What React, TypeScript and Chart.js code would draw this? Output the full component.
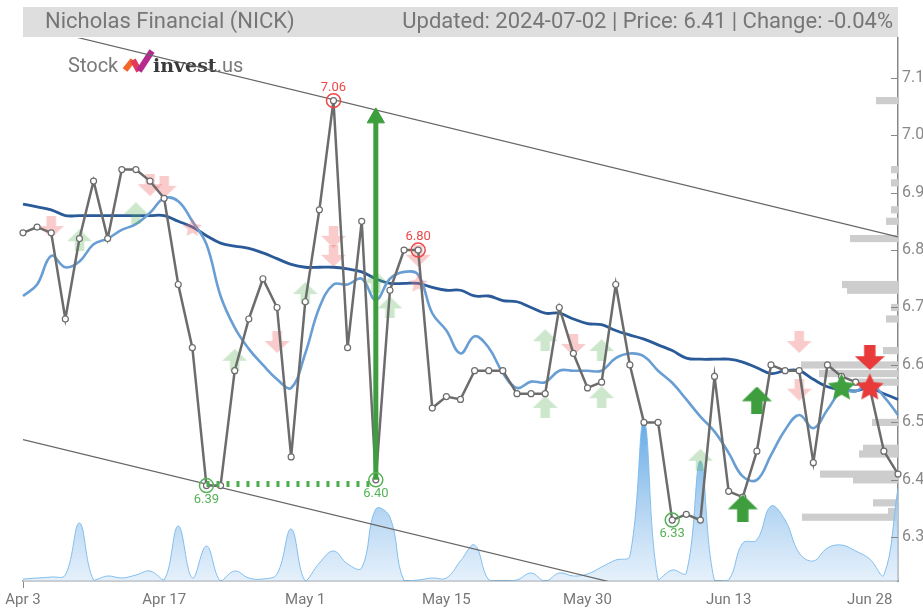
import React, { useEffect, useRef } from 'react';
import { Chart, registerables } from 'chart.js';

Chart.register(...registerables);

const FONT = 'Roboto, "Liberation Sans", sans-serif';

const titleLeft = 'Nicholas Financial (NICK)';
const titleRight = 'Updated: 2024-07-02 | Price: 6.41 | Change: -0.04%';

const dates = [
  'Apr 3', 'Apr 4', 'Apr 5', 'Apr 8', 'Apr 9', 'Apr 10', 'Apr 11', 'Apr 12', 'Apr 15', 'Apr 16',
  'Apr 17', 'Apr 18', 'Apr 19', 'Apr 22', 'Apr 23', 'Apr 24', 'Apr 25', 'Apr 26', 'Apr 29', 'Apr 30',
  'May 1', 'May 2', 'May 3', 'May 6', 'May 7', 'May 8', 'May 9', 'May 10', 'May 13', 'May 14',
  'May 15', 'May 16', 'May 17', 'May 20', 'May 21', 'May 22', 'May 23', 'May 24', 'May 28', 'May 29',
  'May 30', 'May 31', 'Jun 3', 'Jun 4', 'Jun 5', 'Jun 6', 'Jun 7', 'Jun 10', 'Jun 11', 'Jun 12',
  'Jun 13', 'Jun 14', 'Jun 17', 'Jun 18', 'Jun 20', 'Jun 21', 'Jun 24', 'Jun 25', 'Jun 26', 'Jun 27',
  'Jun 28', 'Jul 1', 'Jul 2',
];

const tickLabels = ['Apr 3', 'Apr 17', 'May 1', 'May 15', 'May 30', 'Jun 13', 'Jun 28'];
const yTicks = [6.3, 6.4, 6.5, 6.6, 6.7, 6.8, 6.9, 7.0, 7.1];
const yMin = 6.224;
const yMax = 7.169;

const price = [
  6.83, 6.84, 6.83, 6.68, 6.82, 6.92, 6.82, 6.94, 6.94, 6.92,
  6.89, 6.74, 6.63, 6.39, 6.39, 6.59, 6.68, 6.75, 6.70, 6.44,
  6.71, 6.87, 7.06, 6.63, 6.85, 6.40, 6.73, 6.80, 6.80, 6.525,
  6.545, 6.54, 6.59, 6.59, 6.59, 6.55, 6.55, 6.55, 6.70, 6.62,
  6.56, 6.57, 6.74, 6.60, 6.50, 6.50, 6.33, 6.34, 6.33, 6.58,
  6.38, 6.37, 6.45, 6.60, 6.59, 6.59, 6.43, 6.60, 6.58, 6.57,
  6.56, 6.45, 6.41,
];

const maFast = [
  6.72, 6.74, 6.79, 6.77, 6.78, 6.81, 6.82, 6.835, 6.845, 6.865,
  6.89, 6.885, 6.85, 6.81, 6.72, 6.665, 6.628, 6.60, 6.575, 6.56,
  6.62, 6.70, 6.74, 6.74, 6.75, 6.713, 6.75, 6.762, 6.757, 6.69,
  6.66, 6.62, 6.65, 6.63, 6.586, 6.56, 6.571, 6.57, 6.59, 6.59,
  6.59, 6.59, 6.612, 6.62, 6.615, 6.59, 6.569, 6.54, 6.51, 6.484,
  6.447, 6.406, 6.40, 6.443, 6.487, 6.513, 6.49, 6.522, 6.554, 6.554,
  6.568, 6.545, 6.513,
];

const maSlow = [
  6.88, 6.875, 6.87, 6.86, 6.86, 6.86, 6.86, 6.86, 6.86, 6.86,
  6.86, 6.85, 6.84, 6.825, 6.812, 6.807, 6.803, 6.795, 6.785, 6.775,
  6.77, 6.77, 6.77, 6.767, 6.762, 6.75, 6.742, 6.742, 6.742, 6.735,
  6.73, 6.73, 6.72, 6.72, 6.712, 6.71, 6.70, 6.69, 6.69, 6.68,
  6.672, 6.67, 6.66, 6.652, 6.645, 6.635, 6.625, 6.612, 6.61, 6.61,
  6.61, 6.605, 6.595, 6.585, 6.59, 6.59, 6.575, 6.562, 6.557, 6.555,
  6.56, 6.55, 6.54,
];

const volume = [
  2, 3, 4, 6, 58, 1, 5, 3, 6, 10,
  1, 55, 3, 35, 0, 10, 3, 2, 7, 52,
  0, 18, 30, 17, 13, 72, 64, 0, 1, 3,
  3, 20, 36, 1, 0, 1, 8, 0, 8, 5,
  7, 14, 21, 25, 160, 1, 11, 8, 120, 0,
  1, 38, 41, 75, 61, 28, 20, 33, 36, 30,
  22, 6, 93,
];
const volumeAxisMax = 543;

const channelUpper = [7.193, 6.823];
const channelLower = [6.47, 6.101];

const profilePrices = [7.06, 6.94, 6.917, 6.87, 6.85, 6.82, 6.74, 6.73, 6.70, 6.68, 6.625, 6.60, 6.585, 6.57, 6.50, 6.455, 6.445, 6.41, 6.40, 6.36, 6.345, 6.335];
const profileVolume = [22, 7, 7, 7, 12, 48, 56, 51, 7, 12, 15, 97, 79, 45, 26, 35, 39, 78, 45, 25, 10, 96];
const profileBin = 0.0125;
const profileAxisMax = 875;

const highIdx = [22, 28];
const highVal = [7.06, 6.80];
const lowIdx = [13, 25, 46];
const lowVal = [6.39, 6.40, 6.33];

const supportIdx = [13, 25];
const supportVal = [6.393, 6.393];

const jumpIdx = [25, 25];
const jumpVal = [6.40, 7.03];

const fadedDownIdx = [2, 9, 10, 18, 22, 22, 28, 39, 55, 55];
const fadedDownVal = [6.84, 6.913, 6.91, 6.64, 6.823, 6.79, 6.79, 6.635, 6.64, 6.557];
const fadedUpIdx = [4, 8, 15, 20, 25, 26, 37, 37, 41, 41, 48];
const fadedUpVal = [6.817, 6.864, 6.609, 6.725, 6.744, 6.70, 6.643, 6.527, 6.626, 6.544, 6.435];
const fadedStarIdx = [12, 28];
const fadedStarVal = [6.84, 6.743];
const strongUpIdx = [51, 52];
const strongUpVal = [6.351, 6.539];
const strongDownIdx = [60];
const strongDownVal = [6.613];
const greenStarIdx = [58];
const greenStarVal = [6.562];
const redStarIdx = [60];
const redStarVal = [6.562];

const GREEN = 'rgb(62,158,62)';
const RED = 'rgb(232,58,58)';

function pts(idx: number[], val: number[]) {
  return idx.map((i, k) => ({ x: dates[i], y: val[k] }));
}

function makeArrow(w: number, h: number, color: string, dir: 'up' | 'down') {
  const c = document.createElement('canvas');
  c.width = w;
  c.height = h;
  const g = c.getContext('2d')!;
  const sw = w * 0.38;
  const hh = h * 0.55;
  g.fillStyle = color;
  g.beginPath();
  if (dir === 'up') {
    g.moveTo(w / 2, 0);
    g.lineTo(w, hh);
    g.lineTo((w + sw) / 2, hh);
    g.lineTo((w + sw) / 2, h);
    g.lineTo((w - sw) / 2, h);
    g.lineTo((w - sw) / 2, hh);
    g.lineTo(0, hh);
  } else {
    g.moveTo(w / 2, h);
    g.lineTo(w, h - hh);
    g.lineTo((w + sw) / 2, h - hh);
    g.lineTo((w + sw) / 2, 0);
    g.lineTo((w - sw) / 2, 0);
    g.lineTo((w - sw) / 2, h - hh);
    g.lineTo(0, h - hh);
  }
  g.closePath();
  g.fill();
  return c;
}

function makeStar(r: number, color: string) {
  const s = Math.ceil(r * 2 + 2);
  const c = document.createElement('canvas');
  c.width = s;
  c.height = s;
  const g = c.getContext('2d')!;
  g.fillStyle = color;
  g.beginPath();
  for (let k = 0; k < 10; k++) {
    const a = -Math.PI / 2 + (k * Math.PI) / 5;
    const rr = k % 2 === 0 ? r : r * 0.48;
    const px = s / 2 + Math.cos(a) * rr;
    const py = s / 2 + 1 + Math.sin(a) * rr;
    if (k === 0) g.moveTo(px, py);
    else g.lineTo(px, py);
  }
  g.closePath();
  g.fill();
  return c;
}

const headerPlugin = {
  id: 'header',
  beforeDraw(chart: any) {
    const { ctx, chartArea } = chart;
    ctx.save();
    ctx.fillStyle = '#dedede';
    ctx.fillRect(chartArea.left, 7, chartArea.right - chartArea.left, 30);
    ctx.font = `22px ${FONT}`;
    ctx.fillStyle = '#767676';
    ctx.textBaseline = 'middle';
    ctx.textAlign = 'left';
    ctx.fillText(titleLeft, chartArea.left + 22, 22);
    ctx.textAlign = 'right';
    ctx.fillText(titleRight, chartArea.right - 5, 22);

    // logo
    ctx.textAlign = 'left';
    ctx.textBaseline = 'alphabetic';
    ctx.font = `20px ${FONT}`;
    ctx.fillStyle = '#7a7a7a';
    ctx.fillText('Stock', 68, 72);
    ctx.lineCap = 'butt';
    ctx.lineWidth = 6;
    ctx.strokeStyle = '#f2672a';
    ctx.beginPath();
    ctx.moveTo(125, 70);
    ctx.lineTo(133, 60);
    ctx.stroke();
    ctx.strokeStyle = '#e23a5e';
    ctx.beginPath();
    ctx.moveTo(133, 60);
    ctx.lineTo(139, 71);
    ctx.stroke();
    ctx.strokeStyle = '#b52a8c';
    ctx.beginPath();
    ctx.moveTo(139, 71);
    ctx.lineTo(152, 51);
    ctx.stroke();
    ctx.font = `bold 19px "DejaVu Serif", serif`;
    ctx.fillStyle = '#3a3a3a';
    ctx.fillText('invest', 153, 72);
    const w = ctx.measureText('invest').width;
    ctx.font = `20px ${FONT}`;
    ctx.fillStyle = '#7a7a7a';
    ctx.fillText('.us', 153 + w, 72);
    ctx.restore();
  },
};

const profilePlugin = {
  id: 'profile',
  beforeDatasetsDraw(chart: any) {
    const { ctx, scales, chartArea } = chart;
    const ys = scales.y;
    const pxPerUnit = (chartArea.right - chartArea.left) / profileAxisMax;
    ctx.save();
    ctx.fillStyle = 'rgb(205,205,205)';
    profilePrices.forEach((p, k) => {
      const top = ys.getPixelForValue(p + profileBin / 2);
      const bot = ys.getPixelForValue(p - profileBin / 2);
      const w = profileVolume[k] * pxPerUnit;
      ctx.fillRect(chartArea.right - w, top, w, bot - top);
    });
    ctx.restore();
  },
};

const labelPlugin = {
  id: 'labels',
  afterDatasetsDraw(chart: any) {
    const { ctx, scales, chartArea } = chart;
    const xs = scales.x;
    const ys = scales.y;
    ctx.save();
    ctx.font = `13px ${FONT}`;
    ctx.textAlign = 'center';
    ctx.textBaseline = 'middle';
    ctx.fillStyle = 'rgb(236,72,72)';
    highIdx.forEach((i, k) => {
      ctx.fillText(highVal[k].toFixed(2), xs.getPixelForValue(i), ys.getPixelForValue(highVal[k]) - 13);
    });
    ctx.fillStyle = 'rgb(86,178,86)';
    lowIdx.forEach((i, k) => {
      ctx.fillText(lowVal[k].toFixed(2), xs.getPixelForValue(i), ys.getPixelForValue(lowVal[k]) + 14);
    });
    // inner y tick marks
    ctx.strokeStyle = '#888';
    ctx.lineWidth = 1;
    ctx.beginPath();
    yTicks.forEach((v) => {
      const y = Math.round(ys.getPixelForValue(v)) + 0.5;
      ctx.moveTo(chartArea.right - 7, y);
      ctx.lineTo(chartArea.right, y);
    });
    ctx.stroke();
    ctx.restore();
  },
};

export default function App() {
  const ref = useRef<HTMLCanvasElement>(null);

  useEffect(() => {
    const canvas = ref.current;
    if (!canvas) return;

    const fadedDown = makeArrow(25, 22, 'rgba(238,110,110,0.36)', 'down');
    const fadedUp = makeArrow(25, 22, 'rgba(90,175,90,0.3)', 'up');
    const fadedStar = makeStar(10, 'rgba(238,110,110,0.36)');
    const strongUp = makeArrow(30, 27, GREEN, 'up');
    const strongDown = makeArrow(30, 25, RED, 'down');
    const greenStar = makeStar(14.5, 'rgb(64,160,64)');
    const redStar = makeStar(14.5, RED);

    const markerSet = (label: string, data: any[], img: any, order: number) => ({
      type: 'line',
      label,
      data,
      showLine: false,
      pointStyle: img,
      pointRadius: 5,
      order,
    });

    const chart = new Chart(canvas, {
      type: 'line',
      data: {
        labels: dates,
        datasets: [
          {
            label: 'Volume',
            data: volume,
            yAxisID: 'yVol',
            borderColor: 'rgba(125,188,236,0.95)',
            borderWidth: 1,
            pointRadius: 0,
            tension: 0.4,
            fill: 'origin',
            backgroundColor: (c: any) => {
              const area = c.chart.chartArea;
              if (!area) return 'rgba(150,200,240,0.4)';
              const g = c.chart.ctx.createLinearGradient(0, area.bottom, 0, area.bottom - 165);
              g.addColorStop(0, 'rgba(218,234,249,0.7)');
              g.addColorStop(1, 'rgba(88,162,226,0.95)');
              return g;
            },
            order: 30,
          },
          {
            label: 'Upper channel',
            data: [{ x: dates[0], y: channelUpper[0] }, { x: dates[dates.length - 1], y: channelUpper[1] }],
            borderColor: '#666',
            borderWidth: 1.2,
            pointRadius: 0,
            clip: 0,
            order: 25,
          },
          {
            label: 'Lower channel',
            data: [{ x: dates[0], y: channelLower[0] }, { x: dates[dates.length - 1], y: channelLower[1] }],
            borderColor: '#666',
            borderWidth: 1.2,
            pointRadius: 0,
            clip: 0,
            order: 25,
          },
          {
            label: 'SMA slow',
            data: maSlow,
            borderColor: 'rgb(42,90,152)',
            borderWidth: 2.8,
            pointRadius: 0,
            tension: 0.4,
            order: 22,
          },
          {
            label: 'SMA fast',
            data: maFast,
            borderColor: 'rgb(104,158,211)',
            borderWidth: 2.6,
            pointRadius: 0,
            tension: 0.4,
            order: 21,
          },
          markerSet('Faded sell', pts(fadedDownIdx, fadedDownVal), fadedDown, 18),
          markerSet('Faded buy', pts(fadedUpIdx, fadedUpVal), fadedUp, 18),
          markerSet('Faded star', pts(fadedStarIdx, fadedStarVal), fadedStar, 18),
          {
            label: 'Price',
            data: price,
            borderColor: 'rgb(108,108,108)',
            borderWidth: 2.5,
            pointRadius: 3,
            pointBackgroundColor: '#fff',
            pointBorderColor: 'rgb(108,108,108)',
            pointBorderWidth: 1.2,
            tension: 0,
            order: 15,
          },
          {
            label: 'Support',
            data: pts(supportIdx, supportVal),
            borderColor: 'rgb(76,172,76)',
            borderWidth: 6,
            borderDash: [3, 7],
            pointRadius: 0,
            order: 12,
          },
          {
            label: 'Jump',
            data: pts(jumpIdx, jumpVal),
            borderColor: GREEN,
            borderWidth: 5,
            pointRadius: [0, 10],
            pointStyle: 'triangle',
            pointBackgroundColor: GREEN,
            pointBorderColor: GREEN,
            pointBorderWidth: 1,
            order: 10,
          },
          {
            label: 'Highs',
            data: pts(highIdx, highVal),
            showLine: false,
            pointRadius: 7,
            pointBorderWidth: 1.5,
            pointBorderColor: 'rgb(236,72,72)',
            pointBackgroundColor: 'rgba(255,255,255,0)',
            order: 8,
          },
          {
            label: 'Lows',
            data: pts(lowIdx, lowVal),
            showLine: false,
            pointRadius: 7,
            pointBorderWidth: 1.5,
            pointBorderColor: 'rgb(86,178,86)',
            pointBackgroundColor: 'rgba(255,255,255,0)',
            order: 8,
          },
          markerSet('Buy', pts(strongUpIdx, strongUpVal), strongUp, 5),
          markerSet('Sell', pts(strongDownIdx, strongDownVal), strongDown, 5),
          markerSet('Green star', pts(greenStarIdx, greenStarVal), greenStar, 4),
          markerSet('Red star', pts(redStarIdx, redStarVal), redStar, 3),
        ] as any,
      },
      options: {
        responsive: false,
        animation: false,
        events: [],
        layout: { padding: { left: 23, top: 38, right: 0, bottom: 0 } },
        plugins: {
          legend: { display: false },
          tooltip: { enabled: false },
        },
        scales: {
          x: {
            type: 'category',
            offset: false,
            afterFit: (s: any) => {
              s.height = 27;
            },
            grid: {
              drawOnChartArea: false,
              tickLength: 7,
              color: (c: any) => (c.tick && tickLabels.includes(dates[c.index]) ? '#888' : 'rgba(0,0,0,0)'),
            },
            border: { color: '#999', width: 1.5 },
            ticks: {
              autoSkip: false,
              maxRotation: 0,
              color: '#777',
              font: { size: 15, family: FONT },
              padding: 3,
              callback: (_v: any, i: number) => (tickLabels.includes(dates[i]) ? dates[i] : null),
            },
          },
          y: {
            type: 'linear',
            position: 'right',
            min: yMin,
            max: yMax,
            afterFit: (s: any) => {
              s.width = 25;
            },
            afterBuildTicks: (s: any) => {
              s.ticks = yTicks.map((v) => ({ value: v }));
            },
            grid: { drawOnChartArea: false, drawTicks: false },
            border: { color: '#888', width: 1.5 },
            ticks: {
              color: '#888',
              padding: 4,
              font: { size: 16, family: FONT },
              callback: (v: any) => Number(v).toFixed(1),
            },
          },
          yVol: {
            type: 'linear',
            display: false,
            min: 0,
            max: volumeAxisMax,
          },
        },
      } as any,
      plugins: [headerPlugin, profilePlugin, labelPlugin],
    });

    return () => chart.destroy();
  }, []);

  return (
    <div style={{ position: 'absolute', left: 0, top: 0, width: 923, height: 608, background: '#fff' }}>
      <canvas ref={ref} width={923} height={608} style={{ display: 'block' }} />
    </div>
  );
}
